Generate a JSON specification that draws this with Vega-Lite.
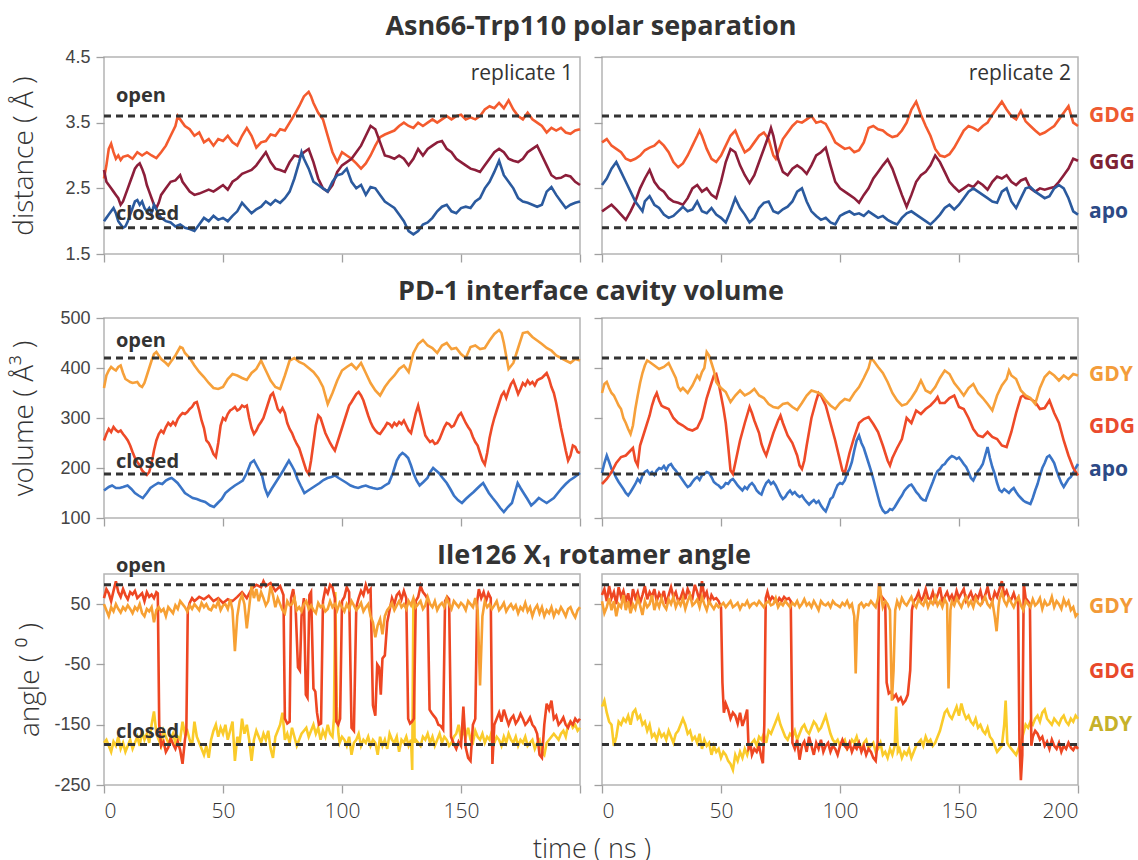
{
  "$schema": "https://vega.github.io/schema/vega-lite/v6.json",
  "background": "white",
  "padding": {"left": 10, "top": 13, "right": 4, "bottom": 2},
  "config": {
    "font": "Open Sans",
    "view": {"stroke": "#b4b4b4", "strokeWidth": 1.5},
    "axis": {"grid": false, "domain": false, "tickColor": "#a0a0a0", "tickSize": 8, "tickWidth": 1.3, "labelFont": "Liberation Sans", "labelFontSize": 18, "labelColor": "#444444", "labelPadding": 6, "titleFont": "Open Sans", "titleFontWeight": 300, "titleFontSize": 28, "titleColor": "#333333"},
    "line": {"strokeWidth": 2.6},
    "title": {"font": "Open Sans", "fontSize": 27, "fontWeight": "bold", "color": "#333333", "anchor": "middle", "frame": "bounds"}
  },
  "datasets": {
    "lv1": [{"t":0,"v":3.6,"k":"open"},{"t":200,"v":3.6,"k":"open"},{"t":0,"v":1.9,"k":"closed"},{"t":200,"v":1.9,"k":"closed"}],
    "lv2": [{"t":0,"v":420,"k":"open"},{"t":200,"v":420,"k":"open"},{"t":0,"v":188,"k":"closed"},{"t":200,"v":188,"k":"closed"}],
    "lv3": [{"t":0,"v":82,"k":"open"},{"t":200,"v":82,"k":"open"},{"t":0,"v":-183,"k":"closed"},{"t":200,"v":-183,"k":"closed"}],
    "d1L_GDG": [{"t":0,"v":2.65},{"t":1,"v":2.85},{"t":2,"v":3.1},{"t":3,"v":3.18},{"t":4,"v":3.05},{"t":5,"v":2.95},{"t":6,"v":3.0},{"t":7,"v":2.93},{"t":8,"v":2.98},{"t":10,"v":3.0},{"t":12,"v":2.95},{"t":14,"v":3.05},{"t":16,"v":3.0},{"t":18,"v":3.05},{"t":20,"v":3.0},{"t":22,"v":2.96},{"t":24,"v":3.05},{"t":26,"v":3.15},{"t":28,"v":3.3},{"t":30,"v":3.45},{"t":31,"v":3.6},{"t":32,"v":3.55},{"t":34,"v":3.45},{"t":36,"v":3.4},{"t":38,"v":3.3},{"t":40,"v":3.35},{"t":42,"v":3.2},{"t":44,"v":3.25},{"t":46,"v":3.15},{"t":48,"v":3.25},{"t":50,"v":3.22},{"t":52,"v":3.3},{"t":54,"v":3.2},{"t":56,"v":3.15},{"t":58,"v":3.3},{"t":60,"v":3.42},{"t":62,"v":3.3},{"t":64,"v":3.12},{"t":66,"v":3.2},{"t":68,"v":3.22},{"t":70,"v":3.32},{"t":72,"v":3.3},{"t":74,"v":3.4},{"t":76,"v":3.38},{"t":78,"v":3.5},{"t":80,"v":3.62},{"t":82,"v":3.75},{"t":84,"v":3.9},{"t":86,"v":3.97},{"t":87,"v":3.9},{"t":88,"v":3.8},{"t":90,"v":3.65},{"t":92,"v":3.55},{"t":94,"v":3.3},{"t":96,"v":3.05},{"t":98,"v":2.9},{"t":100,"v":3.05},{"t":102,"v":3.0},{"t":104,"v":2.95},{"t":106,"v":2.88},{"t":108,"v":2.8},{"t":110,"v":2.88},{"t":112,"v":3.0},{"t":114,"v":3.15},{"t":116,"v":3.28},{"t":118,"v":3.32},{"t":120,"v":3.35},{"t":122,"v":3.38},{"t":124,"v":3.45},{"t":126,"v":3.5},{"t":128,"v":3.45},{"t":130,"v":3.42},{"t":132,"v":3.5},{"t":134,"v":3.45},{"t":136,"v":3.5},{"t":138,"v":3.55},{"t":140,"v":3.5},{"t":142,"v":3.55},{"t":144,"v":3.6},{"t":146,"v":3.55},{"t":148,"v":3.6},{"t":150,"v":3.62},{"t":152,"v":3.55},{"t":154,"v":3.58},{"t":156,"v":3.55},{"t":158,"v":3.6},{"t":160,"v":3.7},{"t":162,"v":3.75},{"t":164,"v":3.72},{"t":166,"v":3.8},{"t":168,"v":3.72},{"t":170,"v":3.84},{"t":172,"v":3.7},{"t":174,"v":3.6},{"t":176,"v":3.55},{"t":178,"v":3.65},{"t":180,"v":3.55},{"t":182,"v":3.5},{"t":184,"v":3.45},{"t":186,"v":3.35},{"t":188,"v":3.42},{"t":190,"v":3.38},{"t":192,"v":3.42},{"t":194,"v":3.35},{"t":196,"v":3.33},{"t":198,"v":3.38},{"t":200,"v":3.4}],
    "d1L_GGG": [{"t":0,"v":2.78},{"t":1,"v":2.6},{"t":2,"v":2.55},{"t":3,"v":2.5},{"t":4,"v":2.45},{"t":5,"v":2.4},{"t":6,"v":2.35},{"t":7,"v":2.25},{"t":8,"v":2.3},{"t":9,"v":2.4},{"t":10,"v":2.5},{"t":11,"v":2.6},{"t":12,"v":2.7},{"t":13,"v":2.8},{"t":14,"v":2.85},{"t":15,"v":2.88},{"t":16,"v":2.8},{"t":17,"v":2.7},{"t":18,"v":2.55},{"t":19,"v":2.45},{"t":20,"v":2.35},{"t":21,"v":2.25},{"t":22,"v":2.2},{"t":23,"v":2.28},{"t":24,"v":2.4},{"t":26,"v":2.5},{"t":28,"v":2.6},{"t":30,"v":2.62},{"t":32,"v":2.7},{"t":33,"v":2.6},{"t":34,"v":2.55},{"t":36,"v":2.45},{"t":38,"v":2.4},{"t":40,"v":2.42},{"t":42,"v":2.45},{"t":44,"v":2.48},{"t":46,"v":2.45},{"t":48,"v":2.5},{"t":50,"v":2.55},{"t":52,"v":2.48},{"t":54,"v":2.6},{"t":56,"v":2.65},{"t":58,"v":2.72},{"t":60,"v":2.75},{"t":62,"v":2.78},{"t":64,"v":2.85},{"t":66,"v":2.95},{"t":68,"v":3.05},{"t":70,"v":2.9},{"t":72,"v":2.8},{"t":74,"v":2.78},{"t":76,"v":2.75},{"t":78,"v":2.9},{"t":80,"v":3.0},{"t":82,"v":2.98},{"t":84,"v":3.05},{"t":86,"v":3.1},{"t":88,"v":2.9},{"t":90,"v":2.65},{"t":92,"v":2.5},{"t":94,"v":2.45},{"t":96,"v":2.55},{"t":98,"v":2.75},{"t":100,"v":2.85},{"t":102,"v":2.9},{"t":104,"v":2.95},{"t":106,"v":3.05},{"t":108,"v":3.15},{"t":110,"v":3.3},{"t":112,"v":3.45},{"t":114,"v":3.4},{"t":116,"v":3.2},{"t":118,"v":3.0},{"t":120,"v":2.98},{"t":122,"v":2.95},{"t":124,"v":3.0},{"t":126,"v":2.95},{"t":128,"v":2.85},{"t":130,"v":2.95},{"t":132,"v":3.1},{"t":134,"v":3.0},{"t":136,"v":3.1},{"t":138,"v":3.15},{"t":140,"v":3.2},{"t":142,"v":3.22},{"t":144,"v":3.1},{"t":146,"v":3.05},{"t":148,"v":2.95},{"t":150,"v":2.9},{"t":152,"v":2.85},{"t":154,"v":2.8},{"t":156,"v":2.78},{"t":158,"v":2.75},{"t":160,"v":2.85},{"t":162,"v":2.95},{"t":164,"v":3.05},{"t":166,"v":3.1},{"t":168,"v":3.05},{"t":170,"v":2.95},{"t":172,"v":2.92},{"t":174,"v":2.9},{"t":176,"v":2.95},{"t":178,"v":3.05},{"t":180,"v":3.1},{"t":182,"v":3.15},{"t":184,"v":3.0},{"t":186,"v":2.85},{"t":188,"v":2.7},{"t":190,"v":2.65},{"t":192,"v":2.66},{"t":194,"v":2.7},{"t":196,"v":2.68},{"t":198,"v":2.6},{"t":200,"v":2.55}],
    "d1L_apo": [{"t":0,"v":2.0},{"t":1,"v":2.05},{"t":2,"v":2.1},{"t":3,"v":2.15},{"t":4,"v":2.2},{"t":5,"v":2.12},{"t":6,"v":2.0},{"t":7,"v":1.95},{"t":8,"v":1.9},{"t":9,"v":1.92},{"t":10,"v":2.0},{"t":11,"v":2.1},{"t":12,"v":2.2},{"t":13,"v":2.3},{"t":14,"v":2.32},{"t":15,"v":2.25},{"t":16,"v":2.3},{"t":17,"v":2.2},{"t":18,"v":2.15},{"t":19,"v":2.2},{"t":20,"v":2.12},{"t":21,"v":2.25},{"t":22,"v":2.18},{"t":23,"v":2.1},{"t":24,"v":2.05},{"t":26,"v":2.0},{"t":28,"v":1.98},{"t":30,"v":1.92},{"t":32,"v":1.95},{"t":34,"v":1.9},{"t":36,"v":1.88},{"t":38,"v":1.85},{"t":40,"v":1.95},{"t":42,"v":2.05},{"t":44,"v":2.0},{"t":46,"v":2.08},{"t":48,"v":2.02},{"t":50,"v":2.05},{"t":52,"v":2.0},{"t":54,"v":2.08},{"t":56,"v":2.15},{"t":58,"v":2.28},{"t":60,"v":2.2},{"t":62,"v":2.12},{"t":64,"v":2.18},{"t":66,"v":2.22},{"t":68,"v":2.3},{"t":70,"v":2.25},{"t":72,"v":2.32},{"t":74,"v":2.28},{"t":76,"v":2.35},{"t":78,"v":2.45},{"t":80,"v":2.65},{"t":82,"v":2.9},{"t":83,"v":3.05},{"t":84,"v":2.95},{"t":86,"v":2.8},{"t":88,"v":2.6},{"t":90,"v":2.55},{"t":92,"v":2.5},{"t":94,"v":2.45},{"t":96,"v":2.6},{"t":98,"v":2.7},{"t":100,"v":2.72},{"t":102,"v":2.8},{"t":104,"v":2.6},{"t":106,"v":2.5},{"t":108,"v":2.55},{"t":110,"v":2.4},{"t":112,"v":2.52},{"t":114,"v":2.5},{"t":116,"v":2.4},{"t":118,"v":2.3},{"t":120,"v":2.25},{"t":122,"v":2.2},{"t":124,"v":2.1},{"t":126,"v":2.0},{"t":128,"v":1.85},{"t":130,"v":1.8},{"t":132,"v":1.85},{"t":134,"v":1.95},{"t":136,"v":1.98},{"t":138,"v":2.05},{"t":140,"v":2.15},{"t":142,"v":2.22},{"t":144,"v":2.25},{"t":146,"v":2.15},{"t":148,"v":2.12},{"t":150,"v":2.2},{"t":152,"v":2.22},{"t":154,"v":2.2},{"t":156,"v":2.3},{"t":158,"v":2.35},{"t":160,"v":2.5},{"t":162,"v":2.6},{"t":164,"v":2.75},{"t":166,"v":2.92},{"t":168,"v":2.7},{"t":170,"v":2.6},{"t":172,"v":2.5},{"t":174,"v":2.35},{"t":176,"v":2.3},{"t":178,"v":2.28},{"t":180,"v":2.25},{"t":182,"v":2.22},{"t":184,"v":2.25},{"t":186,"v":2.45},{"t":188,"v":2.52},{"t":190,"v":2.4},{"t":192,"v":2.3},{"t":194,"v":2.2},{"t":196,"v":2.25},{"t":198,"v":2.28},{"t":200,"v":2.3}],
    "d1R_GDG": [{"t":0,"v":3.2},{"t":2,"v":3.25},{"t":4,"v":3.15},{"t":6,"v":3.1},{"t":8,"v":3.05},{"t":10,"v":2.95},{"t":12,"v":2.92},{"t":14,"v":2.95},{"t":16,"v":3.0},{"t":18,"v":3.08},{"t":20,"v":3.12},{"t":22,"v":3.15},{"t":24,"v":3.22},{"t":26,"v":3.15},{"t":28,"v":3.05},{"t":30,"v":2.9},{"t":32,"v":2.82},{"t":34,"v":2.88},{"t":36,"v":3.0},{"t":38,"v":3.15},{"t":40,"v":3.3},{"t":41,"v":3.38},{"t":42,"v":3.3},{"t":44,"v":3.1},{"t":46,"v":2.95},{"t":48,"v":2.9},{"t":50,"v":3.0},{"t":52,"v":3.15},{"t":54,"v":3.3},{"t":56,"v":3.38},{"t":58,"v":3.2},{"t":60,"v":3.05},{"t":62,"v":3.1},{"t":64,"v":3.2},{"t":66,"v":3.3},{"t":68,"v":3.35},{"t":70,"v":3.25},{"t":72,"v":3.0},{"t":73,"v":2.95},{"t":74,"v":3.05},{"t":76,"v":3.25},{"t":78,"v":3.35},{"t":80,"v":3.45},{"t":82,"v":3.52},{"t":84,"v":3.5},{"t":86,"v":3.55},{"t":88,"v":3.6},{"t":90,"v":3.5},{"t":92,"v":3.52},{"t":94,"v":3.48},{"t":96,"v":3.35},{"t":98,"v":3.2},{"t":100,"v":3.15},{"t":102,"v":3.1},{"t":104,"v":3.12},{"t":106,"v":3.05},{"t":108,"v":3.08},{"t":110,"v":3.2},{"t":112,"v":3.42},{"t":114,"v":3.45},{"t":116,"v":3.4},{"t":118,"v":3.38},{"t":120,"v":3.32},{"t":122,"v":3.28},{"t":124,"v":3.3},{"t":126,"v":3.38},{"t":128,"v":3.5},{"t":130,"v":3.7},{"t":132,"v":3.82},{"t":134,"v":3.62},{"t":136,"v":3.45},{"t":138,"v":3.3},{"t":140,"v":3.1},{"t":142,"v":3.0},{"t":144,"v":2.98},{"t":146,"v":3.02},{"t":148,"v":3.12},{"t":150,"v":3.25},{"t":152,"v":3.38},{"t":154,"v":3.45},{"t":156,"v":3.42},{"t":158,"v":3.38},{"t":160,"v":3.45},{"t":162,"v":3.5},{"t":164,"v":3.62},{"t":166,"v":3.72},{"t":168,"v":3.82},{"t":170,"v":3.7},{"t":172,"v":3.6},{"t":174,"v":3.55},{"t":176,"v":3.68},{"t":178,"v":3.52},{"t":180,"v":3.45},{"t":182,"v":3.38},{"t":184,"v":3.32},{"t":186,"v":3.35},{"t":188,"v":3.4},{"t":190,"v":3.45},{"t":192,"v":3.55},{"t":194,"v":3.65},{"t":196,"v":3.75},{"t":198,"v":3.5},{"t":200,"v":3.45}],
    "d1R_GGG": [{"t":0,"v":2.15},{"t":2,"v":2.2},{"t":4,"v":2.25},{"t":6,"v":2.18},{"t":8,"v":2.1},{"t":10,"v":2.02},{"t":12,"v":2.15},{"t":14,"v":2.3},{"t":16,"v":2.5},{"t":18,"v":2.65},{"t":20,"v":2.78},{"t":22,"v":2.6},{"t":24,"v":2.5},{"t":26,"v":2.45},{"t":28,"v":2.35},{"t":30,"v":2.3},{"t":32,"v":2.28},{"t":34,"v":2.25},{"t":36,"v":2.35},{"t":38,"v":2.5},{"t":40,"v":2.55},{"t":42,"v":2.45},{"t":44,"v":2.5},{"t":46,"v":2.4},{"t":48,"v":2.35},{"t":50,"v":2.6},{"t":52,"v":2.9},{"t":54,"v":3.1},{"t":56,"v":3.05},{"t":58,"v":2.85},{"t":60,"v":2.7},{"t":62,"v":2.58},{"t":64,"v":2.7},{"t":66,"v":2.9},{"t":68,"v":3.1},{"t":70,"v":3.3},{"t":71,"v":3.42},{"t":72,"v":3.3},{"t":74,"v":2.95},{"t":76,"v":2.75},{"t":78,"v":2.7},{"t":80,"v":2.8},{"t":82,"v":2.85},{"t":84,"v":2.8},{"t":86,"v":2.72},{"t":88,"v":2.85},{"t":90,"v":3.0},{"t":92,"v":3.05},{"t":94,"v":3.12},{"t":96,"v":2.85},{"t":98,"v":2.6},{"t":100,"v":2.5},{"t":102,"v":2.45},{"t":104,"v":2.4},{"t":106,"v":2.35},{"t":108,"v":2.28},{"t":110,"v":2.4},{"t":112,"v":2.5},{"t":114,"v":2.65},{"t":116,"v":2.75},{"t":118,"v":2.85},{"t":120,"v":2.94},{"t":122,"v":2.8},{"t":124,"v":2.6},{"t":126,"v":2.4},{"t":128,"v":2.22},{"t":130,"v":2.4},{"t":132,"v":2.6},{"t":134,"v":2.7},{"t":136,"v":2.75},{"t":138,"v":2.85},{"t":140,"v":3.0},{"t":142,"v":2.9},{"t":144,"v":2.75},{"t":146,"v":2.6},{"t":148,"v":2.52},{"t":150,"v":2.45},{"t":152,"v":2.5},{"t":154,"v":2.55},{"t":156,"v":2.52},{"t":158,"v":2.6},{"t":160,"v":2.55},{"t":162,"v":2.48},{"t":164,"v":2.6},{"t":166,"v":2.68},{"t":168,"v":2.65},{"t":170,"v":2.7},{"t":172,"v":2.6},{"t":174,"v":2.55},{"t":176,"v":2.62},{"t":178,"v":2.65},{"t":180,"v":2.5},{"t":182,"v":2.45},{"t":184,"v":2.5},{"t":186,"v":2.48},{"t":188,"v":2.5},{"t":190,"v":2.52},{"t":192,"v":2.6},{"t":194,"v":2.7},{"t":196,"v":2.8},{"t":198,"v":2.95},{"t":200,"v":2.92}],
    "d1R_apo": [{"t":0,"v":2.55},{"t":2,"v":2.65},{"t":4,"v":2.8},{"t":6,"v":2.9},{"t":8,"v":2.75},{"t":10,"v":2.6},{"t":12,"v":2.45},{"t":14,"v":2.3},{"t":16,"v":2.2},{"t":17,"v":2.15},{"t":18,"v":2.3},{"t":20,"v":2.38},{"t":22,"v":2.25},{"t":24,"v":2.2},{"t":26,"v":2.1},{"t":28,"v":2.05},{"t":30,"v":2.08},{"t":32,"v":2.15},{"t":34,"v":2.22},{"t":36,"v":2.15},{"t":38,"v":2.18},{"t":40,"v":2.3},{"t":42,"v":2.15},{"t":44,"v":2.12},{"t":46,"v":2.2},{"t":48,"v":2.1},{"t":50,"v":2.05},{"t":52,"v":1.98},{"t":54,"v":2.15},{"t":56,"v":2.35},{"t":58,"v":2.2},{"t":60,"v":2.1},{"t":62,"v":1.98},{"t":64,"v":2.05},{"t":66,"v":2.2},{"t":68,"v":2.28},{"t":70,"v":2.3},{"t":72,"v":2.15},{"t":74,"v":2.12},{"t":76,"v":2.18},{"t":78,"v":2.22},{"t":80,"v":2.3},{"t":82,"v":2.45},{"t":84,"v":2.5},{"t":86,"v":2.3},{"t":88,"v":2.15},{"t":90,"v":2.08},{"t":92,"v":2.02},{"t":94,"v":2.05},{"t":96,"v":1.98},{"t":98,"v":1.95},{"t":100,"v":2.08},{"t":102,"v":2.12},{"t":104,"v":2.15},{"t":106,"v":2.1},{"t":108,"v":2.12},{"t":110,"v":2.08},{"t":112,"v":2.15},{"t":114,"v":2.1},{"t":116,"v":2.05},{"t":118,"v":2.08},{"t":120,"v":2.02},{"t":122,"v":1.98},{"t":124,"v":1.95},{"t":126,"v":2.05},{"t":128,"v":2.12},{"t":130,"v":2.15},{"t":132,"v":2.1},{"t":134,"v":2.05},{"t":136,"v":2.0},{"t":138,"v":1.95},{"t":140,"v":2.02},{"t":142,"v":2.1},{"t":144,"v":2.2},{"t":146,"v":2.25},{"t":148,"v":2.18},{"t":150,"v":2.25},{"t":152,"v":2.35},{"t":154,"v":2.45},{"t":156,"v":2.5},{"t":158,"v":2.45},{"t":160,"v":2.4},{"t":162,"v":2.35},{"t":164,"v":2.3},{"t":166,"v":2.28},{"t":168,"v":2.45},{"t":170,"v":2.5},{"t":172,"v":2.3},{"t":174,"v":2.2},{"t":176,"v":2.35},{"t":178,"v":2.5},{"t":180,"v":2.52},{"t":182,"v":2.45},{"t":184,"v":2.4},{"t":186,"v":2.35},{"t":188,"v":2.38},{"t":190,"v":2.5},{"t":192,"v":2.55},{"t":194,"v":2.5},{"t":196,"v":2.35},{"t":198,"v":2.15},{"t":200,"v":2.1}],
    "d2L_GDY": [{"t":0,"v":360},{"t":1,"v":385},{"t":2,"v":395},{"t":3,"v":402},{"t":4,"v":398},{"t":5,"v":395},{"t":6,"v":402},{"t":7,"v":405},{"t":8,"v":390},{"t":9,"v":378},{"t":10,"v":375},{"t":11,"v":372},{"t":12,"v":370},{"t":14,"v":372},{"t":15,"v":365},{"t":16,"v":362},{"t":17,"v":370},{"t":18,"v":385},{"t":19,"v":400},{"t":20,"v":415},{"t":21,"v":428},{"t":22,"v":432},{"t":23,"v":425},{"t":24,"v":418},{"t":26,"v":410},{"t":27,"v":405},{"t":28,"v":412},{"t":30,"v":425},{"t":32,"v":442},{"t":33,"v":440},{"t":34,"v":430},{"t":36,"v":420},{"t":38,"v":405},{"t":40,"v":392},{"t":42,"v":382},{"t":44,"v":370},{"t":46,"v":360},{"t":48,"v":358},{"t":50,"v":362},{"t":52,"v":378},{"t":54,"v":388},{"t":56,"v":385},{"t":58,"v":380},{"t":60,"v":376},{"t":62,"v":390},{"t":64,"v":398},{"t":66,"v":415},{"t":68,"v":395},{"t":70,"v":375},{"t":72,"v":362},{"t":74,"v":358},{"t":76,"v":385},{"t":78,"v":415},{"t":80,"v":420},{"t":82,"v":412},{"t":84,"v":408},{"t":86,"v":400},{"t":88,"v":392},{"t":90,"v":380},{"t":92,"v":362},{"t":94,"v":328},{"t":96,"v":350},{"t":98,"v":375},{"t":100,"v":395},{"t":102,"v":402},{"t":104,"v":408},{"t":106,"v":398},{"t":108,"v":410},{"t":110,"v":390},{"t":112,"v":370},{"t":114,"v":355},{"t":116,"v":345},{"t":118,"v":362},{"t":120,"v":375},{"t":122,"v":385},{"t":124,"v":398},{"t":126,"v":405},{"t":128,"v":392},{"t":130,"v":430},{"t":132,"v":448},{"t":134,"v":456},{"t":136,"v":445},{"t":138,"v":440},{"t":140,"v":430},{"t":142,"v":445},{"t":144,"v":450},{"t":146,"v":438},{"t":148,"v":440},{"t":150,"v":428},{"t":152,"v":420},{"t":154,"v":442},{"t":156,"v":445},{"t":158,"v":438},{"t":160,"v":440},{"t":162,"v":455},{"t":164,"v":468},{"t":166,"v":476},{"t":167,"v":470},{"t":168,"v":450},{"t":170,"v":398},{"t":172,"v":410},{"t":174,"v":440},{"t":176,"v":470},{"t":178,"v":472},{"t":180,"v":462},{"t":182,"v":455},{"t":184,"v":448},{"t":186,"v":440},{"t":188,"v":435},{"t":190,"v":425},{"t":192,"v":420},{"t":194,"v":415},{"t":196,"v":410},{"t":198,"v":418},{"t":200,"v":415}],
    "d2L_GDG": [{"t":0,"v":255},{"t":1,"v":268},{"t":2,"v":278},{"t":3,"v":272},{"t":4,"v":282},{"t":5,"v":276},{"t":6,"v":272},{"t":7,"v":275},{"t":8,"v":268},{"t":9,"v":262},{"t":10,"v":255},{"t":11,"v":245},{"t":12,"v":232},{"t":13,"v":220},{"t":14,"v":212},{"t":15,"v":205},{"t":16,"v":195},{"t":17,"v":190},{"t":18,"v":186},{"t":19,"v":192},{"t":20,"v":210},{"t":21,"v":235},{"t":22,"v":255},{"t":23,"v":268},{"t":24,"v":275},{"t":25,"v":270},{"t":26,"v":282},{"t":27,"v":290},{"t":28,"v":285},{"t":29,"v":292},{"t":30,"v":286},{"t":31,"v":298},{"t":32,"v":305},{"t":33,"v":310},{"t":34,"v":308},{"t":35,"v":312},{"t":36,"v":318},{"t":37,"v":322},{"t":38,"v":330},{"t":39,"v":332},{"t":40,"v":315},{"t":41,"v":295},{"t":42,"v":280},{"t":43,"v":255},{"t":44,"v":250},{"t":45,"v":240},{"t":46,"v":228},{"t":47,"v":222},{"t":48,"v":250},{"t":49,"v":285},{"t":50,"v":300},{"t":51,"v":296},{"t":52,"v":308},{"t":53,"v":315},{"t":54,"v":318},{"t":55,"v":322},{"t":56,"v":315},{"t":57,"v":318},{"t":58,"v":325},{"t":59,"v":322},{"t":60,"v":325},{"t":61,"v":300},{"t":62,"v":280},{"t":63,"v":268},{"t":64,"v":275},{"t":65,"v":285},{"t":66,"v":292},{"t":67,"v":300},{"t":68,"v":315},{"t":69,"v":330},{"t":70,"v":345},{"t":71,"v":350},{"t":72,"v":335},{"t":73,"v":318},{"t":74,"v":312},{"t":75,"v":320},{"t":76,"v":310},{"t":77,"v":290},{"t":78,"v":278},{"t":79,"v":270},{"t":80,"v":258},{"t":81,"v":248},{"t":82,"v":240},{"t":83,"v":225},{"t":84,"v":210},{"t":85,"v":195},{"t":86,"v":188},{"t":87,"v":215},{"t":88,"v":250},{"t":89,"v":285},{"t":90,"v":305},{"t":91,"v":300},{"t":92,"v":285},{"t":93,"v":270},{"t":94,"v":260},{"t":95,"v":250},{"t":96,"v":242},{"t":97,"v":235},{"t":98,"v":250},{"t":99,"v":265},{"t":100,"v":280},{"t":101,"v":295},{"t":102,"v":310},{"t":103,"v":325},{"t":104,"v":332},{"t":105,"v":340},{"t":106,"v":348},{"t":107,"v":352},{"t":108,"v":345},{"t":109,"v":335},{"t":110,"v":320},{"t":111,"v":305},{"t":112,"v":292},{"t":113,"v":282},{"t":114,"v":275},{"t":115,"v":270},{"t":116,"v":268},{"t":117,"v":275},{"t":118,"v":282},{"t":119,"v":290},{"t":120,"v":288},{"t":121,"v":282},{"t":122,"v":290},{"t":123,"v":285},{"t":124,"v":292},{"t":125,"v":288},{"t":126,"v":295},{"t":127,"v":285},{"t":128,"v":275},{"t":129,"v":270},{"t":130,"v":290},{"t":131,"v":310},{"t":132,"v":325},{"t":133,"v":305},{"t":134,"v":285},{"t":135,"v":265},{"t":136,"v":258},{"t":137,"v":252},{"t":138,"v":255},{"t":139,"v":248},{"t":140,"v":250},{"t":141,"v":258},{"t":142,"v":270},{"t":143,"v":282},{"t":144,"v":290},{"t":145,"v":288},{"t":146,"v":282},{"t":147,"v":285},{"t":148,"v":295},{"t":149,"v":305},{"t":150,"v":310},{"t":151,"v":300},{"t":152,"v":290},{"t":153,"v":282},{"t":154,"v":275},{"t":155,"v":262},{"t":156,"v":252},{"t":157,"v":245},{"t":158,"v":230},{"t":159,"v":215},{"t":160,"v":207},{"t":161,"v":230},{"t":162,"v":260},{"t":163,"v":282},{"t":164,"v":300},{"t":165,"v":315},{"t":166,"v":330},{"t":167,"v":345},{"t":168,"v":352},{"t":169,"v":340},{"t":170,"v":355},{"t":171,"v":368},{"t":172,"v":375},{"t":173,"v":362},{"t":174,"v":348},{"t":175,"v":358},{"t":176,"v":370},{"t":177,"v":365},{"t":178,"v":375},{"t":179,"v":368},{"t":180,"v":372},{"t":181,"v":365},{"t":182,"v":375},{"t":183,"v":378},{"t":184,"v":380},{"t":185,"v":385},{"t":186,"v":390},{"t":187,"v":378},{"t":188,"v":362},{"t":189,"v":350},{"t":190,"v":330},{"t":191,"v":305},{"t":192,"v":280},{"t":193,"v":258},{"t":194,"v":235},{"t":195,"v":215},{"t":196,"v":225},{"t":197,"v":245},{"t":198,"v":242},{"t":199,"v":232},{"t":200,"v":230}],
    "d2L_apo": [{"t":0,"v":155},{"t":2,"v":162},{"t":3.4,"v":165},{"t":5,"v":160},{"t":6.6,"v":160},{"t":8,"v":162},{"t":9.9,"v":165},{"t":11.5,"v":158},{"t":13,"v":150},{"t":14.5,"v":145},{"t":16.3,"v":140},{"t":18,"v":150},{"t":19.5,"v":160},{"t":21,"v":165},{"t":22.8,"v":170},{"t":24.5,"v":168},{"t":26,"v":175},{"t":27.2,"v":178},{"t":28.4,"v":180},{"t":29.5,"v":176},{"t":30.9,"v":170},{"t":32.5,"v":160},{"t":34,"v":150},{"t":35.6,"v":145},{"t":37.3,"v":140},{"t":39,"v":138},{"t":40.5,"v":135},{"t":42.5,"v":132},{"t":44.6,"v":125},{"t":46.2,"v":122},{"t":47.8,"v":130},{"t":49.5,"v":138},{"t":51,"v":150},{"t":53,"v":158},{"t":55,"v":165},{"t":56.7,"v":170},{"t":58.3,"v":175},{"t":60,"v":190},{"t":61.6,"v":210},{"t":63,"v":215},{"t":64.7,"v":200},{"t":66.4,"v":185},{"t":67.6,"v":160},{"t":68.8,"v":145},{"t":70.4,"v":158},{"t":72,"v":170},{"t":73.6,"v":182},{"t":75.3,"v":195},{"t":76.5,"v":205},{"t":77.7,"v":215},{"t":78.9,"v":205},{"t":80,"v":195},{"t":81.3,"v":178},{"t":82.6,"v":165},{"t":84.2,"v":150},{"t":85.8,"v":155},{"t":87.4,"v":160},{"t":89,"v":165},{"t":90.6,"v":170},{"t":92.2,"v":176},{"t":93.9,"v":180},{"t":95.5,"v":182},{"t":97,"v":185},{"t":98.6,"v":180},{"t":100.3,"v":175},{"t":102,"v":170},{"t":103.6,"v":165},{"t":105.2,"v":162},{"t":106.8,"v":160},{"t":108.4,"v":163},{"t":110,"v":165},{"t":111.5,"v":162},{"t":113,"v":160},{"t":114.8,"v":158},{"t":116.5,"v":160},{"t":118,"v":165},{"t":119.7,"v":170},{"t":121.4,"v":190},{"t":123,"v":215},{"t":124.2,"v":225},{"t":125.4,"v":230},{"t":126.6,"v":226},{"t":127.8,"v":220},{"t":129,"v":205},{"t":130,"v":190},{"t":131.3,"v":175},{"t":132.6,"v":165},{"t":134.2,"v":172},{"t":135.9,"v":180},{"t":137.1,"v":192},{"t":138.3,"v":200},{"t":139.5,"v":195},{"t":140.7,"v":190},{"t":142.3,"v":180},{"t":144,"v":170},{"t":145.5,"v":158},{"t":147,"v":145},{"t":148.7,"v":136},{"t":150.4,"v":130},{"t":152,"v":138},{"t":153.6,"v":145},{"t":155.3,"v":152},{"t":157,"v":160},{"t":158.1,"v":165},{"t":159.3,"v":170},{"t":160.5,"v":160},{"t":161.7,"v":150},{"t":163.3,"v":140},{"t":165,"v":130},{"t":166.5,"v":120},{"t":168,"v":112},{"t":169.7,"v":122},{"t":171.4,"v":130},{"t":172.6,"v":150},{"t":173.8,"v":170},{"t":175,"v":160},{"t":176.3,"v":150},{"t":177.9,"v":138},{"t":179.5,"v":125},{"t":181.1,"v":132},{"t":182.7,"v":140},{"t":184.3,"v":135},{"t":186,"v":130},{"t":187.5,"v":135},{"t":189,"v":140},{"t":190.7,"v":150},{"t":192.4,"v":160},{"t":194,"v":168},{"t":195.6,"v":175},{"t":197.8,"v":182},{"t":200,"v":190}],
    "d2R_GDY": [{"t":0,"v":350},{"t":1,"v":368},{"t":2,"v":372},{"t":3,"v":360},{"t":4,"v":350},{"t":5,"v":345},{"t":6,"v":335},{"t":7,"v":325},{"t":8,"v":318},{"t":9,"v":300},{"t":10,"v":290},{"t":11,"v":278},{"t":12,"v":268},{"t":13,"v":285},{"t":14,"v":318},{"t":15,"v":345},{"t":16,"v":370},{"t":17,"v":390},{"t":18,"v":405},{"t":19,"v":415},{"t":20,"v":412},{"t":22,"v":405},{"t":24,"v":398},{"t":26,"v":402},{"t":28,"v":410},{"t":29,"v":400},{"t":30,"v":390},{"t":31,"v":380},{"t":32,"v":362},{"t":33,"v":355},{"t":34,"v":360},{"t":36,"v":350},{"t":38,"v":365},{"t":40,"v":385},{"t":41,"v":378},{"t":42,"v":392},{"t":43,"v":400},{"t":44,"v":432},{"t":45,"v":425},{"t":46,"v":410},{"t":47,"v":395},{"t":48,"v":372},{"t":49,"v":365},{"t":50,"v":360},{"t":52,"v":352},{"t":54,"v":332},{"t":56,"v":345},{"t":58,"v":355},{"t":60,"v":345},{"t":62,"v":350},{"t":64,"v":358},{"t":66,"v":345},{"t":68,"v":340},{"t":70,"v":328},{"t":72,"v":322},{"t":74,"v":320},{"t":76,"v":328},{"t":78,"v":330},{"t":80,"v":322},{"t":82,"v":316},{"t":84,"v":330},{"t":86,"v":345},{"t":88,"v":355},{"t":90,"v":352},{"t":92,"v":348},{"t":94,"v":335},{"t":96,"v":325},{"t":98,"v":318},{"t":100,"v":330},{"t":102,"v":338},{"t":104,"v":335},{"t":106,"v":350},{"t":108,"v":362},{"t":110,"v":380},{"t":112,"v":400},{"t":113,"v":418},{"t":114,"v":415},{"t":116,"v":402},{"t":118,"v":390},{"t":120,"v":372},{"t":122,"v":350},{"t":124,"v":335},{"t":126,"v":325},{"t":128,"v":328},{"t":130,"v":340},{"t":132,"v":355},{"t":134,"v":375},{"t":136,"v":355},{"t":138,"v":350},{"t":140,"v":362},{"t":142,"v":380},{"t":144,"v":395},{"t":146,"v":388},{"t":148,"v":370},{"t":150,"v":358},{"t":152,"v":345},{"t":154,"v":360},{"t":156,"v":368},{"t":158,"v":350},{"t":160,"v":340},{"t":162,"v":328},{"t":164,"v":315},{"t":166,"v":345},{"t":168,"v":365},{"t":170,"v":378},{"t":171,"v":395},{"t":172,"v":385},{"t":174,"v":378},{"t":176,"v":355},{"t":178,"v":345},{"t":180,"v":340},{"t":182,"v":328},{"t":184,"v":360},{"t":186,"v":382},{"t":188,"v":392},{"t":190,"v":385},{"t":192,"v":375},{"t":194,"v":385},{"t":196,"v":378},{"t":198,"v":388},{"t":200,"v":385}],
    "d2R_GDG": [{"t":0,"v":168},{"t":2,"v":178},{"t":4,"v":192},{"t":6,"v":210},{"t":8,"v":222},{"t":10,"v":225},{"t":12,"v":235},{"t":13,"v":240},{"t":14,"v":215},{"t":15,"v":205},{"t":16,"v":245},{"t":18,"v":275},{"t":20,"v":305},{"t":21,"v":325},{"t":22,"v":340},{"t":23,"v":350},{"t":24,"v":335},{"t":25,"v":325},{"t":26,"v":322},{"t":28,"v":318},{"t":30,"v":300},{"t":32,"v":290},{"t":34,"v":285},{"t":36,"v":278},{"t":38,"v":275},{"t":40,"v":280},{"t":42,"v":300},{"t":44,"v":340},{"t":46,"v":370},{"t":47,"v":385},{"t":48,"v":388},{"t":49,"v":370},{"t":50,"v":345},{"t":51,"v":320},{"t":52,"v":290},{"t":53,"v":245},{"t":54,"v":195},{"t":55,"v":188},{"t":56,"v":210},{"t":58,"v":255},{"t":60,"v":290},{"t":62,"v":322},{"t":63,"v":310},{"t":64,"v":295},{"t":66,"v":270},{"t":67,"v":248},{"t":68,"v":235},{"t":69,"v":225},{"t":70,"v":240},{"t":72,"v":270},{"t":74,"v":295},{"t":75,"v":305},{"t":76,"v":290},{"t":78,"v":265},{"t":80,"v":250},{"t":82,"v":225},{"t":83,"v":205},{"t":84,"v":198},{"t":85,"v":215},{"t":86,"v":245},{"t":88,"v":300},{"t":90,"v":335},{"t":91,"v":350},{"t":92,"v":345},{"t":94,"v":325},{"t":96,"v":290},{"t":98,"v":255},{"t":100,"v":215},{"t":101,"v":195},{"t":102,"v":190},{"t":103,"v":210},{"t":104,"v":230},{"t":106,"v":262},{"t":108,"v":290},{"t":110,"v":298},{"t":112,"v":302},{"t":114,"v":288},{"t":116,"v":272},{"t":118,"v":245},{"t":120,"v":215},{"t":121,"v":205},{"t":122,"v":220},{"t":124,"v":240},{"t":126,"v":258},{"t":128,"v":300},{"t":130,"v":290},{"t":132,"v":315},{"t":134,"v":308},{"t":136,"v":318},{"t":138,"v":325},{"t":140,"v":335},{"t":141,"v":342},{"t":142,"v":330},{"t":144,"v":330},{"t":146,"v":340},{"t":148,"v":345},{"t":150,"v":322},{"t":152,"v":318},{"t":154,"v":300},{"t":156,"v":278},{"t":158,"v":265},{"t":160,"v":262},{"t":162,"v":272},{"t":164,"v":262},{"t":166,"v":258},{"t":168,"v":245},{"t":170,"v":242},{"t":172,"v":272},{"t":174,"v":310},{"t":176,"v":342},{"t":177,"v":345},{"t":178,"v":340},{"t":180,"v":338},{"t":182,"v":332},{"t":184,"v":318},{"t":186,"v":320},{"t":188,"v":335},{"t":190,"v":310},{"t":192,"v":290},{"t":194,"v":255},{"t":196,"v":225},{"t":198,"v":200},{"t":200,"v":185}],
    "d2R_apo": [{"t":0,"v":190},{"t":1,"v":210},{"t":2,"v":225},{"t":3,"v":212},{"t":4,"v":198},{"t":5,"v":190},{"t":6,"v":180},{"t":7,"v":172},{"t":8,"v":165},{"t":9,"v":158},{"t":10,"v":150},{"t":11,"v":145},{"t":12,"v":152},{"t":13,"v":160},{"t":14,"v":168},{"t":15,"v":178},{"t":16,"v":172},{"t":17,"v":185},{"t":18,"v":192},{"t":19,"v":195},{"t":20,"v":188},{"t":21,"v":192},{"t":22,"v":186},{"t":23,"v":195},{"t":24,"v":200},{"t":25,"v":198},{"t":26,"v":204},{"t":27,"v":196},{"t":28,"v":205},{"t":29,"v":208},{"t":30,"v":200},{"t":31,"v":195},{"t":32,"v":188},{"t":33,"v":182},{"t":34,"v":175},{"t":35,"v":168},{"t":36,"v":162},{"t":37,"v":165},{"t":38,"v":172},{"t":39,"v":178},{"t":40,"v":182},{"t":41,"v":176},{"t":42,"v":185},{"t":43,"v":188},{"t":44,"v":192},{"t":45,"v":190},{"t":46,"v":182},{"t":47,"v":172},{"t":48,"v":168},{"t":49,"v":165},{"t":50,"v":160},{"t":51,"v":163},{"t":52,"v":170},{"t":53,"v":168},{"t":54,"v":175},{"t":55,"v":178},{"t":56,"v":172},{"t":57,"v":165},{"t":58,"v":160},{"t":59,"v":155},{"t":60,"v":162},{"t":61,"v":158},{"t":62,"v":166},{"t":63,"v":170},{"t":64,"v":164},{"t":65,"v":155},{"t":66,"v":150},{"t":67,"v":147},{"t":68,"v":160},{"t":69,"v":170},{"t":70,"v":175},{"t":71,"v":168},{"t":72,"v":172},{"t":73,"v":165},{"t":74,"v":155},{"t":75,"v":145},{"t":76,"v":138},{"t":77,"v":142},{"t":78,"v":150},{"t":79,"v":155},{"t":80,"v":148},{"t":81,"v":152},{"t":82,"v":146},{"t":83,"v":142},{"t":84,"v":145},{"t":85,"v":138},{"t":86,"v":132},{"t":87,"v":127},{"t":88,"v":132},{"t":89,"v":136},{"t":90,"v":130},{"t":91,"v":134},{"t":92,"v":125},{"t":93,"v":118},{"t":94,"v":113},{"t":95,"v":125},{"t":96,"v":138},{"t":97,"v":142},{"t":98,"v":155},{"t":99,"v":166},{"t":100,"v":170},{"t":101,"v":168},{"t":102,"v":175},{"t":103,"v":190},{"t":104,"v":198},{"t":105,"v":212},{"t":106,"v":235},{"t":107,"v":255},{"t":108,"v":265},{"t":109,"v":250},{"t":110,"v":240},{"t":111,"v":225},{"t":112,"v":210},{"t":113,"v":195},{"t":114,"v":178},{"t":115,"v":160},{"t":116,"v":142},{"t":117,"v":125},{"t":118,"v":115},{"t":119,"v":110},{"t":120,"v":112},{"t":121,"v":118},{"t":122,"v":116},{"t":123,"v":122},{"t":124,"v":130},{"t":125,"v":138},{"t":126,"v":145},{"t":127,"v":154},{"t":128,"v":160},{"t":129,"v":165},{"t":130,"v":167},{"t":131,"v":160},{"t":132,"v":152},{"t":133,"v":147},{"t":134,"v":140},{"t":135,"v":136},{"t":136,"v":135},{"t":137,"v":148},{"t":138,"v":160},{"t":139,"v":172},{"t":140,"v":185},{"t":141,"v":194},{"t":142,"v":198},{"t":143,"v":205},{"t":144,"v":208},{"t":145,"v":215},{"t":146,"v":220},{"t":147,"v":224},{"t":148,"v":222},{"t":149,"v":218},{"t":150,"v":221},{"t":151,"v":215},{"t":152,"v":208},{"t":153,"v":202},{"t":154,"v":192},{"t":155,"v":180},{"t":156,"v":175},{"t":157,"v":185},{"t":158,"v":194},{"t":159,"v":200},{"t":160,"v":208},{"t":161,"v":225},{"t":162,"v":242},{"t":163,"v":220},{"t":164,"v":202},{"t":165,"v":188},{"t":166,"v":170},{"t":167,"v":156},{"t":168,"v":152},{"t":169,"v":158},{"t":170,"v":154},{"t":171,"v":150},{"t":172,"v":156},{"t":173,"v":160},{"t":174,"v":152},{"t":175,"v":145},{"t":176,"v":140},{"t":177,"v":135},{"t":178,"v":132},{"t":179,"v":130},{"t":180,"v":128},{"t":181,"v":140},{"t":182,"v":155},{"t":183,"v":168},{"t":184,"v":185},{"t":185,"v":200},{"t":186,"v":210},{"t":187,"v":222},{"t":188,"v":225},{"t":189,"v":218},{"t":190,"v":210},{"t":191,"v":195},{"t":192,"v":182},{"t":193,"v":170},{"t":194,"v":162},{"t":195,"v":170},{"t":196,"v":178},{"t":197,"v":182},{"t":198,"v":190},{"t":199,"v":200},{"t":200,"v":208}],
    "d3L_GDG": [{"t":0,"v":60},{"t":1,"v":75},{"t":2,"v":68},{"t":3,"v":55},{"t":4,"v":72},{"t":5,"v":88},{"t":6,"v":70},{"t":7,"v":62},{"t":8,"v":75},{"t":9,"v":65},{"t":10,"v":58},{"t":11,"v":70},{"t":12,"v":66},{"t":13,"v":72},{"t":14,"v":60},{"t":15,"v":64},{"t":16,"v":68},{"t":17,"v":55},{"t":18,"v":70},{"t":19,"v":62},{"t":20,"v":66},{"t":21,"v":60},{"t":22,"v":70},{"t":22.6,"v":68},{"t":23.2,"v":-150},{"t":24,"v":-185},{"t":25,"v":-178},{"t":26,"v":-195},{"t":27,"v":-188},{"t":28,"v":-172},{"t":29,"v":-182},{"t":30,"v":-190},{"t":31,"v":-178},{"t":32,"v":-192},{"t":33,"v":-215},{"t":34,"v":-175},{"t":34.6,"v":-160},{"t":35.2,"v":40},{"t":36,"v":52},{"t":37,"v":60},{"t":38,"v":55},{"t":40,"v":62},{"t":42,"v":58},{"t":44,"v":64},{"t":46,"v":55},{"t":48,"v":60},{"t":50,"v":52},{"t":52,"v":58},{"t":54,"v":55},{"t":56,"v":62},{"t":58,"v":70},{"t":60,"v":60},{"t":62,"v":75},{"t":64,"v":82},{"t":66,"v":78},{"t":67,"v":88},{"t":68,"v":80},{"t":70,"v":85},{"t":72,"v":72},{"t":74,"v":80},{"t":75.4,"v":65},{"t":76,"v":-140},{"t":77,"v":-148},{"t":78,"v":-145},{"t":78.6,"v":60},{"t":79.5,"v":75},{"t":80.5,"v":45},{"t":81.5,"v":-55},{"t":82.3,"v":-60},{"t":83,"v":30},{"t":84,"v":60},{"t":84.8,"v":-100},{"t":85.5,"v":-105},{"t":86.3,"v":65},{"t":87,"v":70},{"t":88,"v":-90},{"t":88.8,"v":-95},{"t":89.5,"v":-130},{"t":90.3,"v":-150},{"t":91.2,"v":-148},{"t":92,"v":55},{"t":93,"v":75},{"t":94,"v":68},{"t":95,"v":82},{"t":96,"v":78},{"t":97,"v":60},{"t":97.6,"v":-145},{"t":98.4,"v":-150},{"t":99.2,"v":-140},{"t":100,"v":55},{"t":101,"v":62},{"t":102,"v":78},{"t":103,"v":70},{"t":104,"v":-155},{"t":105,"v":-160},{"t":106,"v":45},{"t":107,"v":60},{"t":108,"v":72},{"t":109,"v":65},{"t":110,"v":82},{"t":111,"v":70},{"t":112,"v":75},{"t":113,"v":-118},{"t":114,"v":-135},{"t":114.8,"v":-50},{"t":115.6,"v":-55},{"t":116.3,"v":-100},{"t":117,"v":-40},{"t":118,"v":-35},{"t":119,"v":20},{"t":120,"v":40},{"t":121,"v":60},{"t":122,"v":50},{"t":123,"v":65},{"t":124,"v":70},{"t":125,"v":58},{"t":126,"v":72},{"t":127,"v":60},{"t":127.8,"v":-140},{"t":128.6,"v":-148},{"t":129.4,"v":-145},{"t":130.2,"v":-140},{"t":131,"v":55},{"t":132,"v":62},{"t":133,"v":80},{"t":134,"v":70},{"t":135,"v":65},{"t":136,"v":58},{"t":136.8,"v":-125},{"t":137.6,"v":-130},{"t":138.5,"v":-135},{"t":139.5,"v":-140},{"t":140.5,"v":-150},{"t":141.5,"v":-152},{"t":142.5,"v":-158},{"t":143.3,"v":55},{"t":144.2,"v":62},{"t":145,"v":58},{"t":145.8,"v":-170},{"t":147,"v":-182},{"t":148,"v":-190},{"t":149,"v":-178},{"t":150,"v":-185},{"t":151,"v":-120},{"t":152,"v":-188},{"t":153,"v":-205},{"t":154,"v":-210},{"t":155,"v":-150},{"t":156,"v":-140},{"t":156.8,"v":55},{"t":157.5,"v":75},{"t":158.5,"v":60},{"t":159.5,"v":70},{"t":160.5,"v":55},{"t":161.5,"v":68},{"t":162.5,"v":60},{"t":163.2,"v":-215},{"t":164,"v":-150},{"t":165,"v":-140},{"t":166,"v":-130},{"t":167,"v":-145},{"t":168,"v":-125},{"t":169,"v":-138},{"t":170,"v":-150},{"t":171,"v":-140},{"t":172,"v":-135},{"t":173,"v":-148},{"t":174,"v":-142},{"t":175,"v":-132},{"t":176,"v":-140},{"t":177,"v":-150},{"t":178,"v":-145},{"t":179,"v":-138},{"t":180,"v":-150},{"t":181,"v":-155},{"t":182,"v":-165},{"t":183,"v":-200},{"t":184,"v":-205},{"t":185,"v":-150},{"t":186,"v":-115},{"t":187,"v":-125},{"t":188,"v":-110},{"t":189,"v":-140},{"t":190,"v":-135},{"t":191,"v":-150},{"t":192,"v":-145},{"t":193,"v":-138},{"t":194,"v":-150},{"t":195,"v":-155},{"t":196,"v":-145},{"t":197,"v":-150},{"t":198,"v":-140},{"t":199,"v":-145},{"t":200,"v":-140}],
    "d3L_GDY": [{"t":0,"v":50},{"t":1,"v":40},{"t":2,"v":30},{"t":3,"v":45},{"t":4,"v":38},{"t":5,"v":50},{"t":6,"v":42},{"t":7,"v":36},{"t":8,"v":45},{"t":9,"v":40},{"t":10,"v":48},{"t":11,"v":42},{"t":12,"v":35},{"t":13,"v":45},{"t":14,"v":40},{"t":15,"v":50},{"t":16,"v":35},{"t":17,"v":30},{"t":18,"v":42},{"t":19,"v":38},{"t":20,"v":45},{"t":21,"v":20},{"t":22,"v":40},{"t":23,"v":45},{"t":24,"v":38},{"t":25,"v":42},{"t":26,"v":30},{"t":27,"v":45},{"t":28,"v":40},{"t":29,"v":35},{"t":30,"v":48},{"t":31,"v":42},{"t":32,"v":55},{"t":33,"v":50},{"t":34,"v":45},{"t":35,"v":38},{"t":36,"v":48},{"t":37,"v":42},{"t":38,"v":50},{"t":39,"v":45},{"t":40,"v":40},{"t":41,"v":52},{"t":42,"v":45},{"t":43,"v":50},{"t":44,"v":42},{"t":45,"v":40},{"t":46,"v":48},{"t":47,"v":45},{"t":48,"v":55},{"t":49,"v":40},{"t":50,"v":48},{"t":51,"v":50},{"t":52,"v":42},{"t":53,"v":58},{"t":54,"v":40},{"t":55,"v":-28},{"t":56,"v":30},{"t":57,"v":55},{"t":58,"v":65},{"t":59,"v":50},{"t":60,"v":10},{"t":61,"v":45},{"t":62,"v":80},{"t":63,"v":60},{"t":64,"v":75},{"t":65,"v":55},{"t":66,"v":70},{"t":67,"v":60},{"t":68,"v":48},{"t":69,"v":55},{"t":70,"v":80},{"t":71,"v":65},{"t":72,"v":45},{"t":73,"v":60},{"t":74,"v":50},{"t":75,"v":40},{"t":76,"v":35},{"t":77,"v":55},{"t":78,"v":48},{"t":79,"v":50},{"t":80,"v":60},{"t":81,"v":40},{"t":82,"v":45},{"t":83,"v":38},{"t":84,"v":50},{"t":85,"v":55},{"t":86,"v":42},{"t":87,"v":48},{"t":88,"v":40},{"t":89,"v":35},{"t":90,"v":52},{"t":91,"v":45},{"t":92,"v":48},{"t":93,"v":38},{"t":94,"v":42},{"t":95,"v":55},{"t":96,"v":45},{"t":97,"v":50},{"t":98,"v":40},{"t":99,"v":52},{"t":100,"v":45},{"t":101,"v":38},{"t":102,"v":50},{"t":103,"v":42},{"t":104,"v":55},{"t":105,"v":48},{"t":106,"v":40},{"t":107,"v":45},{"t":108,"v":52},{"t":109,"v":38},{"t":110,"v":45},{"t":111,"v":50},{"t":112,"v":30},{"t":113,"v":20},{"t":114,"v":-5},{"t":115,"v":15},{"t":116,"v":25},{"t":117,"v":0},{"t":118,"v":30},{"t":119,"v":40},{"t":120,"v":45},{"t":121,"v":52},{"t":122,"v":40},{"t":123,"v":48},{"t":124,"v":55},{"t":125,"v":45},{"t":126,"v":50},{"t":127,"v":42},{"t":128,"v":55},{"t":129,"v":48},{"t":130,"v":60},{"t":131,"v":45},{"t":132,"v":50},{"t":133,"v":55},{"t":134,"v":42},{"t":135,"v":48},{"t":136,"v":62},{"t":137,"v":50},{"t":138,"v":45},{"t":139,"v":55},{"t":140,"v":40},{"t":141,"v":48},{"t":142,"v":52},{"t":143,"v":45},{"t":144,"v":60},{"t":145,"v":50},{"t":146,"v":42},{"t":147,"v":55},{"t":148,"v":50},{"t":149,"v":45},{"t":150,"v":52},{"t":151,"v":48},{"t":152,"v":40},{"t":153,"v":55},{"t":154,"v":50},{"t":155,"v":45},{"t":156,"v":60},{"t":157,"v":40},{"t":158,"v":-85},{"t":159,"v":30},{"t":160,"v":55},{"t":161,"v":45},{"t":162,"v":50},{"t":163,"v":42},{"t":164,"v":48},{"t":165,"v":55},{"t":166,"v":40},{"t":167,"v":45},{"t":168,"v":52},{"t":169,"v":38},{"t":170,"v":45},{"t":171,"v":50},{"t":172,"v":42},{"t":173,"v":48},{"t":174,"v":35},{"t":175,"v":45},{"t":176,"v":40},{"t":177,"v":52},{"t":178,"v":38},{"t":179,"v":45},{"t":180,"v":30},{"t":181,"v":42},{"t":182,"v":48},{"t":183,"v":35},{"t":184,"v":45},{"t":185,"v":30},{"t":186,"v":40},{"t":187,"v":35},{"t":188,"v":45},{"t":189,"v":30},{"t":190,"v":40},{"t":191,"v":35},{"t":192,"v":45},{"t":193,"v":38},{"t":194,"v":30},{"t":195,"v":42},{"t":196,"v":45},{"t":197,"v":35},{"t":198,"v":28},{"t":199,"v":40},{"t":200,"v":45}],
    "d3L_ADY": [{"t":0,"v":-180},{"t":1,"v":-175},{"t":2,"v":-185},{"t":3,"v":-195},{"t":4,"v":-178},{"t":5,"v":-185},{"t":6,"v":-170},{"t":7,"v":-190},{"t":8,"v":-180},{"t":9,"v":-195},{"t":10,"v":-185},{"t":11,"v":-175},{"t":12,"v":-190},{"t":13,"v":-180},{"t":14,"v":-170},{"t":15,"v":-185},{"t":16,"v":-160},{"t":17,"v":-175},{"t":18,"v":-165},{"t":19,"v":-180},{"t":20,"v":-150},{"t":21,"v":-128},{"t":22,"v":-165},{"t":23,"v":-175},{"t":24,"v":-185},{"t":25,"v":-160},{"t":26,"v":-170},{"t":27,"v":-180},{"t":28,"v":-175},{"t":29,"v":-165},{"t":30,"v":-180},{"t":31,"v":-170},{"t":32,"v":-175},{"t":33,"v":-145},{"t":34,"v":-165},{"t":35,"v":-160},{"t":36,"v":-175},{"t":37,"v":-185},{"t":38,"v":-145},{"t":39,"v":-170},{"t":40,"v":-180},{"t":41,"v":-190},{"t":42,"v":-200},{"t":43,"v":-185},{"t":44,"v":-205},{"t":45,"v":-175},{"t":46,"v":-160},{"t":47,"v":-150},{"t":48,"v":-170},{"t":49,"v":-155},{"t":50,"v":-165},{"t":51,"v":-150},{"t":52,"v":-175},{"t":53,"v":-160},{"t":54,"v":-145},{"t":55,"v":-210},{"t":56,"v":-170},{"t":57,"v":-180},{"t":58,"v":-140},{"t":59,"v":-165},{"t":60,"v":-150},{"t":61,"v":-175},{"t":62,"v":-210},{"t":63,"v":-175},{"t":64,"v":-160},{"t":65,"v":-170},{"t":66,"v":-180},{"t":67,"v":-165},{"t":68,"v":-175},{"t":69,"v":-160},{"t":70,"v":-190},{"t":71,"v":-205},{"t":72,"v":-170},{"t":73,"v":-160},{"t":74,"v":-150},{"t":75,"v":-130},{"t":76,"v":-175},{"t":77,"v":-165},{"t":78,"v":-180},{"t":79,"v":-155},{"t":80,"v":-170},{"t":81,"v":-185},{"t":82,"v":-175},{"t":83,"v":-165},{"t":84,"v":-160},{"t":85,"v":-155},{"t":86,"v":-170},{"t":87,"v":-160},{"t":88,"v":-150},{"t":89,"v":-165},{"t":90,"v":-155},{"t":91,"v":-175},{"t":92,"v":-160},{"t":93,"v":-170},{"t":94,"v":-150},{"t":95,"v":-165},{"t":96,"v":-170},{"t":96.6,"v":-140},{"t":97.2,"v":70},{"t":97.8,"v":-120},{"t":98.5,"v":-165},{"t":99,"v":-180},{"t":100,"v":-170},{"t":101,"v":-175},{"t":102,"v":-185},{"t":103,"v":-170},{"t":104,"v":-200},{"t":105,"v":-180},{"t":106,"v":-175},{"t":107,"v":-165},{"t":108,"v":-185},{"t":109,"v":-175},{"t":110,"v":-180},{"t":111,"v":-170},{"t":112,"v":-185},{"t":113,"v":-175},{"t":114,"v":-180},{"t":115,"v":-200},{"t":116,"v":-170},{"t":117,"v":-185},{"t":118,"v":-175},{"t":119,"v":-190},{"t":120,"v":-165},{"t":121,"v":-175},{"t":122,"v":-180},{"t":123,"v":-170},{"t":124,"v":-195},{"t":125,"v":-175},{"t":126,"v":-180},{"t":127,"v":-170},{"t":128,"v":-185},{"t":129,"v":-175},{"t":129.5,"v":-225},{"t":130,"v":60},{"t":130.5,"v":-180},{"t":131,"v":-175},{"t":132,"v":-180},{"t":133,"v":-185},{"t":134,"v":-170},{"t":135,"v":-175},{"t":136,"v":-165},{"t":137,"v":-180},{"t":138,"v":-170},{"t":139,"v":-185},{"t":140,"v":-175},{"t":141,"v":-165},{"t":142,"v":-180},{"t":143,"v":-170},{"t":144,"v":-175},{"t":145,"v":-185},{"t":146,"v":-180},{"t":147,"v":-170},{"t":148,"v":-165},{"t":149,"v":-150},{"t":150,"v":-175},{"t":151,"v":-160},{"t":152,"v":-170},{"t":153,"v":-155},{"t":154,"v":-175},{"t":155,"v":-180},{"t":156,"v":-160},{"t":157,"v":-170},{"t":158,"v":-175},{"t":159,"v":-165},{"t":160,"v":-180},{"t":161,"v":-170},{"t":162,"v":-175},{"t":163,"v":-160},{"t":164,"v":-180},{"t":165,"v":-170},{"t":166,"v":-175},{"t":167,"v":-185},{"t":168,"v":-170},{"t":169,"v":-180},{"t":170,"v":-165},{"t":171,"v":-175},{"t":172,"v":-180},{"t":173,"v":-170},{"t":174,"v":-185},{"t":175,"v":-175},{"t":176,"v":-180},{"t":177,"v":-170},{"t":178,"v":-185},{"t":179,"v":-180},{"t":180,"v":-175},{"t":181,"v":-190},{"t":182,"v":-180},{"t":183,"v":-175},{"t":184,"v":-195},{"t":185,"v":-200},{"t":186,"v":-180},{"t":187,"v":-175},{"t":188,"v":-170},{"t":189,"v":-165},{"t":190,"v":-170},{"t":191,"v":-175},{"t":192,"v":-165},{"t":193,"v":-160},{"t":194,"v":-170},{"t":195,"v":-150},{"t":196,"v":-145},{"t":197,"v":-155},{"t":198,"v":-150},{"t":199,"v":-160},{"t":200,"v":-155}],
    "d3R_GDG": [{"t":0,"v":65},{"t":1,"v":75},{"t":2,"v":55},{"t":3,"v":80},{"t":4,"v":60},{"t":5,"v":70},{"t":6,"v":50},{"t":7,"v":78},{"t":8,"v":62},{"t":9,"v":72},{"t":10,"v":55},{"t":11,"v":68},{"t":12,"v":45},{"t":13,"v":75},{"t":14,"v":60},{"t":15,"v":70},{"t":16,"v":52},{"t":17,"v":65},{"t":18,"v":80},{"t":19,"v":58},{"t":20,"v":70},{"t":21,"v":62},{"t":22,"v":75},{"t":23,"v":55},{"t":24,"v":68},{"t":25,"v":60},{"t":26,"v":72},{"t":27,"v":50},{"t":28,"v":65},{"t":29,"v":78},{"t":30,"v":62},{"t":31,"v":70},{"t":32,"v":55},{"t":33,"v":60},{"t":34,"v":72},{"t":35,"v":58},{"t":36,"v":75},{"t":37,"v":65},{"t":38,"v":60},{"t":39,"v":82},{"t":40,"v":70},{"t":41,"v":55},{"t":42,"v":88},{"t":43,"v":62},{"t":44,"v":70},{"t":45,"v":50},{"t":46,"v":65},{"t":47,"v":58},{"t":48,"v":60},{"t":49,"v":55},{"t":50,"v":45},{"t":50.6,"v":-80},{"t":51.2,"v":-130},{"t":52,"v":-115},{"t":53,"v":-125},{"t":54,"v":-140},{"t":55,"v":-130},{"t":56,"v":-135},{"t":57,"v":-148},{"t":58,"v":-130},{"t":59,"v":-152},{"t":60,"v":-140},{"t":61,"v":-125},{"t":61.6,"v":-190},{"t":62.5,"v":-185},{"t":63,"v":-200},{"t":64,"v":-190},{"t":65,"v":-195},{"t":66,"v":-185},{"t":67,"v":-205},{"t":67.6,"v":-214},{"t":68.2,"v":-150},{"t":68.8,"v":60},{"t":69.5,"v":70},{"t":70.5,"v":55},{"t":71.5,"v":62},{"t":72.5,"v":58},{"t":73.5,"v":52},{"t":74.5,"v":60},{"t":75.5,"v":55},{"t":76.5,"v":62},{"t":77.5,"v":58},{"t":78.5,"v":60},{"t":79.3,"v":55},{"t":80,"v":-180},{"t":81,"v":-190},{"t":82,"v":-175},{"t":83,"v":-208},{"t":84,"v":-185},{"t":85,"v":-178},{"t":86,"v":-195},{"t":87,"v":-170},{"t":88,"v":-185},{"t":89,"v":-200},{"t":90,"v":-180},{"t":91,"v":-190},{"t":92,"v":-175},{"t":93,"v":-195},{"t":94,"v":-185},{"t":95,"v":-180},{"t":96,"v":-195},{"t":97,"v":-185},{"t":98,"v":-190},{"t":99,"v":-200},{"t":100,"v":-185},{"t":101,"v":-175},{"t":102,"v":-185},{"t":103,"v":-190},{"t":104,"v":-180},{"t":105,"v":-195},{"t":106,"v":-185},{"t":107,"v":-190},{"t":108,"v":-180},{"t":109,"v":-195},{"t":110,"v":-185},{"t":111,"v":-200},{"t":112,"v":-190},{"t":113,"v":-195},{"t":114,"v":-205},{"t":115,"v":-210},{"t":115.8,"v":-180},{"t":116.4,"v":85},{"t":117,"v":65},{"t":118,"v":60},{"t":119,"v":55},{"t":119.6,"v":-80},{"t":120.5,"v":-98},{"t":121.5,"v":-95},{"t":122.5,"v":-105},{"t":123.5,"v":-100},{"t":124.5,"v":-110},{"t":125.5,"v":-105},{"t":126.5,"v":-115},{"t":127.5,"v":-110},{"t":128.5,"v":-100},{"t":129.5,"v":-60},{"t":130.2,"v":40},{"t":131,"v":55},{"t":132,"v":60},{"t":133,"v":70},{"t":134,"v":55},{"t":135,"v":62},{"t":136,"v":75},{"t":137,"v":60},{"t":138,"v":58},{"t":139,"v":70},{"t":140,"v":55},{"t":141,"v":65},{"t":142,"v":78},{"t":143,"v":55},{"t":144,"v":62},{"t":145,"v":70},{"t":146,"v":58},{"t":147,"v":65},{"t":148,"v":55},{"t":149,"v":72},{"t":150,"v":60},{"t":151,"v":68},{"t":152,"v":75},{"t":153,"v":55},{"t":154,"v":62},{"t":155,"v":70},{"t":156,"v":58},{"t":157,"v":65},{"t":158,"v":60},{"t":159,"v":72},{"t":160,"v":55},{"t":161,"v":65},{"t":162,"v":78},{"t":163,"v":60},{"t":164,"v":55},{"t":165,"v":70},{"t":166,"v":62},{"t":167,"v":75},{"t":168,"v":88},{"t":169,"v":65},{"t":170,"v":72},{"t":171,"v":60},{"t":172,"v":58},{"t":173,"v":68},{"t":174,"v":55},{"t":174.8,"v":60},{"t":175.4,"v":-180},{"t":176,"v":-242},{"t":176.6,"v":-200},{"t":177.2,"v":85},{"t":178,"v":60},{"t":179,"v":55},{"t":179.8,"v":50},{"t":180.4,"v":-185},{"t":181,"v":-170},{"t":182,"v":-160},{"t":183,"v":-165},{"t":184,"v":-175},{"t":185,"v":-170},{"t":186,"v":-185},{"t":187,"v":-178},{"t":188,"v":-190},{"t":189,"v":-175},{"t":190,"v":-185},{"t":191,"v":-190},{"t":192,"v":-180},{"t":193,"v":-195},{"t":194,"v":-185},{"t":195,"v":-190},{"t":196,"v":-180},{"t":197,"v":-188},{"t":198,"v":-192},{"t":199,"v":-185},{"t":200,"v":-190}],
    "d3R_GDY": [{"t":0,"v":55},{"t":1,"v":35},{"t":2,"v":45},{"t":3,"v":60},{"t":4,"v":40},{"t":5,"v":55},{"t":6,"v":30},{"t":7,"v":50},{"t":8,"v":45},{"t":9,"v":65},{"t":10,"v":40},{"t":11,"v":55},{"t":12,"v":35},{"t":13,"v":50},{"t":14,"v":42},{"t":15,"v":60},{"t":16,"v":48},{"t":17,"v":32},{"t":18,"v":55},{"t":19,"v":45},{"t":20,"v":50},{"t":21,"v":65},{"t":22,"v":40},{"t":23,"v":55},{"t":24,"v":45},{"t":25,"v":60},{"t":26,"v":48},{"t":27,"v":42},{"t":28,"v":58},{"t":29,"v":50},{"t":30,"v":62},{"t":31,"v":45},{"t":32,"v":55},{"t":33,"v":48},{"t":34,"v":60},{"t":35,"v":42},{"t":36,"v":55},{"t":37,"v":65},{"t":38,"v":48},{"t":39,"v":52},{"t":40,"v":58},{"t":41,"v":45},{"t":42,"v":62},{"t":43,"v":50},{"t":44,"v":40},{"t":45,"v":55},{"t":46,"v":48},{"t":47,"v":42},{"t":48,"v":50},{"t":49,"v":45},{"t":50,"v":48},{"t":51,"v":52},{"t":52,"v":45},{"t":53,"v":50},{"t":54,"v":55},{"t":55,"v":45},{"t":56,"v":48},{"t":57,"v":52},{"t":58,"v":42},{"t":59,"v":50},{"t":60,"v":48},{"t":61,"v":55},{"t":62,"v":45},{"t":63,"v":50},{"t":64,"v":52},{"t":65,"v":48},{"t":66,"v":55},{"t":67,"v":50},{"t":68,"v":45},{"t":69,"v":52},{"t":70,"v":55},{"t":71,"v":48},{"t":72,"v":50},{"t":73,"v":60},{"t":74,"v":45},{"t":75,"v":52},{"t":76,"v":48},{"t":77,"v":55},{"t":78,"v":50},{"t":79,"v":45},{"t":80,"v":52},{"t":81,"v":48},{"t":82,"v":55},{"t":83,"v":45},{"t":84,"v":50},{"t":85,"v":58},{"t":86,"v":48},{"t":87,"v":52},{"t":88,"v":45},{"t":89,"v":55},{"t":90,"v":48},{"t":91,"v":40},{"t":92,"v":55},{"t":93,"v":50},{"t":94,"v":48},{"t":95,"v":52},{"t":96,"v":45},{"t":97,"v":55},{"t":98,"v":50},{"t":99,"v":48},{"t":100,"v":45},{"t":101,"v":52},{"t":102,"v":48},{"t":103,"v":55},{"t":104,"v":45},{"t":105,"v":50},{"t":106,"v":30},{"t":106.6,"v":-65},{"t":107.2,"v":20},{"t":108,"v":48},{"t":109,"v":52},{"t":110,"v":45},{"t":111,"v":50},{"t":112,"v":48},{"t":113,"v":55},{"t":114,"v":50},{"t":115,"v":45},{"t":116,"v":60},{"t":116.6,"v":85},{"t":117.4,"v":60},{"t":118,"v":45},{"t":119,"v":55},{"t":120,"v":50},{"t":121,"v":40},{"t":121.8,"v":-110},{"t":122.5,"v":-60},{"t":123.2,"v":40},{"t":124,"v":55},{"t":125,"v":45},{"t":126,"v":60},{"t":127,"v":52},{"t":128,"v":48},{"t":129,"v":55},{"t":130,"v":62},{"t":131,"v":50},{"t":132,"v":45},{"t":133,"v":58},{"t":134,"v":52},{"t":135,"v":48},{"t":136,"v":60},{"t":137,"v":45},{"t":138,"v":55},{"t":139,"v":50},{"t":140,"v":62},{"t":141,"v":48},{"t":142,"v":55},{"t":143,"v":45},{"t":144,"v":58},{"t":145,"v":50},{"t":145.6,"v":-90},{"t":146.4,"v":40},{"t":147,"v":55},{"t":148,"v":48},{"t":149,"v":60},{"t":150,"v":52},{"t":151,"v":45},{"t":152,"v":55},{"t":153,"v":62},{"t":154,"v":48},{"t":155,"v":55},{"t":156,"v":45},{"t":157,"v":60},{"t":158,"v":52},{"t":159,"v":48},{"t":160,"v":55},{"t":161,"v":62},{"t":162,"v":50},{"t":163,"v":45},{"t":164,"v":55},{"t":165,"v":30},{"t":165.8,"v":5},{"t":166.6,"v":45},{"t":167,"v":58},{"t":168,"v":70},{"t":169,"v":55},{"t":170,"v":48},{"t":171,"v":60},{"t":172,"v":52},{"t":173,"v":45},{"t":174,"v":55},{"t":175,"v":62},{"t":176,"v":48},{"t":177,"v":40},{"t":178,"v":55},{"t":179,"v":50},{"t":180,"v":45},{"t":181,"v":58},{"t":182,"v":48},{"t":183,"v":52},{"t":184,"v":60},{"t":185,"v":42},{"t":186,"v":55},{"t":187,"v":48},{"t":188,"v":50},{"t":189,"v":62},{"t":190,"v":45},{"t":191,"v":55},{"t":192,"v":50},{"t":193,"v":42},{"t":194,"v":58},{"t":195,"v":48},{"t":196,"v":55},{"t":197,"v":40},{"t":198,"v":45},{"t":199,"v":30},{"t":200,"v":35}],
    "d3R_ADY": [{"t":0,"v":-120},{"t":1,"v":-110},{"t":2,"v":-130},{"t":3,"v":-145},{"t":4,"v":-150},{"t":5,"v":-185},{"t":6,"v":-170},{"t":7,"v":-145},{"t":8,"v":-150},{"t":9,"v":-140},{"t":10,"v":-145},{"t":11,"v":-135},{"t":12,"v":-150},{"t":13,"v":-130},{"t":14,"v":-125},{"t":15,"v":-140},{"t":16,"v":-135},{"t":17,"v":-150},{"t":18,"v":-145},{"t":19,"v":-160},{"t":20,"v":-150},{"t":21,"v":-170},{"t":22,"v":-165},{"t":23,"v":-175},{"t":24,"v":-160},{"t":25,"v":-170},{"t":26,"v":-165},{"t":27,"v":-175},{"t":28,"v":-160},{"t":29,"v":-170},{"t":30,"v":-180},{"t":31,"v":-165},{"t":32,"v":-160},{"t":33,"v":-150},{"t":34,"v":-140},{"t":35,"v":-150},{"t":36,"v":-165},{"t":37,"v":-160},{"t":38,"v":-175},{"t":39,"v":-170},{"t":40,"v":-180},{"t":41,"v":-165},{"t":42,"v":-190},{"t":43,"v":-175},{"t":44,"v":-185},{"t":45,"v":-180},{"t":46,"v":-200},{"t":47,"v":-185},{"t":48,"v":-195},{"t":49,"v":-190},{"t":50,"v":-205},{"t":51,"v":-195},{"t":52,"v":-200},{"t":53,"v":-210},{"t":54,"v":-215},{"t":55,"v":-225},{"t":56,"v":-200},{"t":57,"v":-210},{"t":58,"v":-195},{"t":59,"v":-205},{"t":60,"v":-190},{"t":61,"v":-200},{"t":62,"v":-185},{"t":63,"v":-180},{"t":64,"v":-175},{"t":65,"v":-185},{"t":66,"v":-170},{"t":67,"v":-175},{"t":68,"v":-165},{"t":69,"v":-180},{"t":70,"v":-160},{"t":71,"v":-165},{"t":72,"v":-155},{"t":73,"v":-145},{"t":74,"v":-135},{"t":75,"v":-150},{"t":76,"v":-160},{"t":77,"v":-170},{"t":78,"v":-175},{"t":79,"v":-165},{"t":80,"v":-170},{"t":81,"v":-160},{"t":82,"v":-175},{"t":83,"v":-165},{"t":84,"v":-155},{"t":85,"v":-150},{"t":86,"v":-160},{"t":87,"v":-165},{"t":88,"v":-155},{"t":89,"v":-145},{"t":90,"v":-150},{"t":91,"v":-160},{"t":92,"v":-155},{"t":93,"v":-145},{"t":94,"v":-135},{"t":95,"v":-150},{"t":96,"v":-165},{"t":97,"v":-175},{"t":98,"v":-180},{"t":99,"v":-175},{"t":100,"v":-185},{"t":101,"v":-180},{"t":102,"v":-175},{"t":103,"v":-190},{"t":104,"v":-185},{"t":105,"v":-175},{"t":106,"v":-180},{"t":107,"v":-170},{"t":108,"v":-185},{"t":109,"v":-190},{"t":110,"v":-180},{"t":111,"v":-175},{"t":112,"v":-190},{"t":113,"v":-185},{"t":114,"v":-180},{"t":115,"v":-195},{"t":116,"v":-190},{"t":117,"v":-180},{"t":118,"v":-200},{"t":119,"v":-195},{"t":120,"v":-205},{"t":121,"v":-190},{"t":122,"v":-200},{"t":123,"v":-185},{"t":123.6,"v":-120},{"t":124.3,"v":-195},{"t":125,"v":-190},{"t":126,"v":-205},{"t":127,"v":-195},{"t":128,"v":-200},{"t":129,"v":-190},{"t":130,"v":-205},{"t":131,"v":-195},{"t":132,"v":-185},{"t":133,"v":-180},{"t":134,"v":-175},{"t":135,"v":-185},{"t":136,"v":-170},{"t":137,"v":-180},{"t":138,"v":-175},{"t":139,"v":-185},{"t":140,"v":-180},{"t":141,"v":-170},{"t":142,"v":-160},{"t":143,"v":-145},{"t":144,"v":-130},{"t":145,"v":-125},{"t":146,"v":-135},{"t":147,"v":-140},{"t":148,"v":-130},{"t":149,"v":-120},{"t":150,"v":-135},{"t":151,"v":-115},{"t":152,"v":-130},{"t":153,"v":-140},{"t":154,"v":-135},{"t":155,"v":-145},{"t":156,"v":-150},{"t":157,"v":-140},{"t":158,"v":-155},{"t":159,"v":-150},{"t":160,"v":-160},{"t":161,"v":-165},{"t":162,"v":-155},{"t":163,"v":-170},{"t":164,"v":-175},{"t":165,"v":-185},{"t":166,"v":-195},{"t":167,"v":-190},{"t":168,"v":-185},{"t":169,"v":-150},{"t":169.6,"v":-110},{"t":170.3,"v":-180},{"t":171,"v":-185},{"t":172,"v":-190},{"t":173,"v":-195},{"t":174,"v":-200},{"t":175,"v":-190},{"t":176,"v":-180},{"t":177,"v":-165},{"t":178,"v":-150},{"t":179,"v":-155},{"t":180,"v":-145},{"t":181,"v":-150},{"t":182,"v":-140},{"t":183,"v":-135},{"t":184,"v":-145},{"t":185,"v":-130},{"t":186,"v":-125},{"t":187,"v":-140},{"t":188,"v":-145},{"t":189,"v":-150},{"t":190,"v":-140},{"t":191,"v":-145},{"t":192,"v":-150},{"t":193,"v":-140},{"t":194,"v":-135},{"t":195,"v":-145},{"t":196,"v":-150},{"t":197,"v":-140},{"t":198,"v":-145},{"t":199,"v":-135},{"t":200,"v":-140}]
  },
  "spacing": 14,
  "resolve": {"scale": {"x": "independent", "y": "independent"}},
  "vconcat": [
    {
      "title": {"text": "Asn66-Trp110 polar separation", "anchor": "middle", "frame": "bounds", "offset": 6, "dx": 18},
      "spacing": 5,
      "resolve": {"scale": {"x": "independent", "y": "independent"}},
      "hconcat": [
        {
          "width": 476, "height": 197,
          "encoding": {
            "x": {"field": "t", "type": "quantitative", "scale": {"domain": [0, 200], "nice": false}, "axis": {"values": [0, 50, 100, 150, 200], "labels": false, "title": null}},
            "y": {"field": "v", "type": "quantitative", "scale": {"domain": [1.5, 4.5], "nice": false, "zero": false}, "axis": {"values": [1.5, 2.5, 3.5, 4.5], "format": ".1f", "title": "distance ( Å )", "titlePadding": 26}}
          },
          "layer": [
            {"data": {"name": "d1L_GDG"}, "mark": {"type": "line", "color": "#F45B2E"}, "encoding": {}},
            {"data": {"name": "d1L_GGG"}, "mark": {"type": "line", "color": "#8C1E3A"}, "encoding": {}},
            {"data": {"name": "d1L_apo"}, "mark": {"type": "line", "color": "#2B5A9E"}, "encoding": {}},
            {"data": {"name": "lv1"}, "mark": {"type": "line", "color": "#333333", "strokeDash": [7, 5], "strokeWidth": 3}, "encoding": {"detail": {"field": "k", "type": "nominal"}}},
            {"data": {"values": [{"t": 5, "v": 3.6, "k": "open"}]}, "mark": {"type": "text", "align": "left", "baseline": "middle", "dy": -20, "fontSize": 20, "fontWeight": "bold", "color": "#333333"}, "encoding": {"text": {"field": "k"}}},
            {"data": {"values": [{"t": 5, "v": 1.9, "k": "closed"}]}, "mark": {"type": "text", "align": "left", "baseline": "middle", "dy": -14, "fontSize": 20, "fontWeight": "bold", "color": "#333333"}, "encoding": {"text": {"field": "k"}}},
            {"data": {"values": [{"t": 200, "v": 4.5, "k": "replicate 1"}]}, "mark": {"type": "text", "align": "right", "baseline": "middle", "dx": -7, "dy": 17, "fontSize": 21, "color": "#333333"}, "encoding": {"text": {"field": "k"}}}
          ]
        },
        {
          "width": 476, "height": 197,
          "encoding": {
            "x": {"field": "t", "type": "quantitative", "scale": {"domain": [0, 200], "nice": false}, "axis": {"values": [0, 50, 100, 150, 200], "labels": false, "title": null}},
            "y": {"field": "v", "type": "quantitative", "scale": {"domain": [1.5, 4.5], "nice": false, "zero": false}, "axis": {"values": [1.5, 2.5, 3.5, 4.5], "labels": false, "title": null}}
          },
          "layer": [
            {"data": {"name": "d1R_GDG"}, "mark": {"type": "line", "color": "#F45B2E"}, "encoding": {}},
            {"data": {"name": "d1R_GGG"}, "mark": {"type": "line", "color": "#8C1E3A"}, "encoding": {}},
            {"data": {"name": "d1R_apo"}, "mark": {"type": "line", "color": "#2B5A9E"}, "encoding": {}},
            {"data": {"name": "lv1"}, "mark": {"type": "line", "color": "#333333", "strokeDash": [7, 5], "strokeWidth": 3}, "encoding": {"detail": {"field": "k", "type": "nominal"}}},
            {"data": {"values": [{"t": 200, "v": 4.5, "k": "replicate 2"}]}, "mark": {"type": "text", "align": "right", "baseline": "middle", "dx": -7, "dy": 17, "fontSize": 21, "color": "#333333"}, "encoding": {"text": {"field": "k"}}},
            {"data": {"values": [{"t": 200, "v": 3.6, "k": "GDG"}]}, "mark": {"type": "text", "align": "left", "baseline": "middle", "dx": 11, "fontSize": 21, "fontWeight": "bold", "color": "#EE5A30"}, "encoding": {"text": {"field": "k"}}},
            {"data": {"values": [{"t": 200, "v": 2.88, "k": "GGG"}]}, "mark": {"type": "text", "align": "left", "baseline": "middle", "dx": 11, "fontSize": 21, "fontWeight": "bold", "color": "#7E2233"}, "encoding": {"text": {"field": "k"}}},
            {"data": {"values": [{"t": 200, "v": 2.14, "k": "apo"}]}, "mark": {"type": "text", "align": "left", "baseline": "middle", "dx": 11, "fontSize": 21, "fontWeight": "bold", "color": "#2C4A86"}, "encoding": {"text": {"field": "k"}}}
          ]
        }
      ]
    },
    {
      "title": {"text": "PD-1 interface cavity volume", "anchor": "middle", "frame": "bounds", "offset": 2, "dx": 18},
      "spacing": 5,
      "resolve": {"scale": {"x": "independent", "y": "independent"}},
      "hconcat": [
        {
          "width": 476, "height": 200,
          "encoding": {
            "x": {"field": "t", "type": "quantitative", "scale": {"domain": [0, 200], "nice": false}, "axis": {"values": [0, 50, 100, 150, 200], "labels": false, "title": null}},
            "y": {"field": "v", "type": "quantitative", "scale": {"domain": [100, 500], "nice": false, "zero": false}, "axis": {"values": [100, 200, 300, 400, 500], "title": "volume ( Å³ )", "titlePadding": 21}}
          },
          "layer": [
            {"data": {"name": "d2L_apo"}, "mark": {"type": "line", "color": "#3A74C6"}, "encoding": {}},
            {"data": {"name": "d2L_GDG"}, "mark": {"type": "line", "color": "#EE4A28"}, "encoding": {}},
            {"data": {"name": "d2L_GDY"}, "mark": {"type": "line", "color": "#F6A03A"}, "encoding": {}},
            {"data": {"name": "lv2"}, "mark": {"type": "line", "color": "#333333", "strokeDash": [7, 5], "strokeWidth": 3}, "encoding": {"detail": {"field": "k", "type": "nominal"}}},
            {"data": {"values": [{"t": 5, "v": 420, "k": "open"}]}, "mark": {"type": "text", "align": "left", "baseline": "middle", "dy": -17, "fontSize": 20, "fontWeight": "bold", "color": "#333333"}, "encoding": {"text": {"field": "k"}}},
            {"data": {"values": [{"t": 5, "v": 188, "k": "closed"}]}, "mark": {"type": "text", "align": "left", "baseline": "middle", "dy": -12, "fontSize": 20, "fontWeight": "bold", "color": "#333333"}, "encoding": {"text": {"field": "k"}}}
          ]
        },
        {
          "width": 476, "height": 200,
          "encoding": {
            "x": {"field": "t", "type": "quantitative", "scale": {"domain": [0, 200], "nice": false}, "axis": {"values": [0, 50, 100, 150, 200], "labels": false, "title": null}},
            "y": {"field": "v", "type": "quantitative", "scale": {"domain": [100, 500], "nice": false, "zero": false}, "axis": {"values": [100, 200, 300, 400, 500], "labels": false, "title": null}}
          },
          "layer": [
            {"data": {"name": "d2R_apo"}, "mark": {"type": "line", "color": "#3A74C6"}, "encoding": {}},
            {"data": {"name": "d2R_GDG"}, "mark": {"type": "line", "color": "#EE4A28"}, "encoding": {}},
            {"data": {"name": "d2R_GDY"}, "mark": {"type": "line", "color": "#F6A03A"}, "encoding": {}},
            {"data": {"name": "lv2"}, "mark": {"type": "line", "color": "#333333", "strokeDash": [7, 5], "strokeWidth": 3}, "encoding": {"detail": {"field": "k", "type": "nominal"}}},
            {"data": {"values": [{"t": 200, "v": 386, "k": "GDY"}]}, "mark": {"type": "text", "align": "left", "baseline": "middle", "dx": 11, "fontSize": 21, "fontWeight": "bold", "color": "#F39C3A"}, "encoding": {"text": {"field": "k"}}},
            {"data": {"values": [{"t": 200, "v": 282, "k": "GDG"}]}, "mark": {"type": "text", "align": "left", "baseline": "middle", "dx": 11, "fontSize": 21, "fontWeight": "bold", "color": "#EA4B2E"}, "encoding": {"text": {"field": "k"}}},
            {"data": {"values": [{"t": 200, "v": 196, "k": "apo"}]}, "mark": {"type": "text", "align": "left", "baseline": "middle", "dx": 11, "fontSize": 21, "fontWeight": "bold", "color": "#2C4A86"}, "encoding": {"text": {"field": "k"}}}
          ]
        }
      ]
    },
    {
      "title": {"text": "Ile126 X₁ rotamer angle", "anchor": "middle", "frame": "bounds", "offset": -15, "dx": 18},
      "resolve": {"scale": {"x": "independent", "y": "independent"}},
      "vconcat": [
        {
          "title": {"text": "time ( ns )", "anchor": "middle", "frame": "bounds", "orient": "bottom", "fontWeight": 300, "fontSize": 27, "offset": 15, "dx": 16},
          "spacing": 5,
          "resolve": {"scale": {"x": "independent", "y": "independent"}},
          "hconcat": [
            {
              "width": 476, "height": 211,
              "encoding": {
                "x": {"field": "t", "type": "quantitative", "scale": {"domain": [0, 200], "nice": false}, "axis": {"values": [0, 50, 100, 150, 200], "title": null, "labelFont": "Open Sans", "labelFontWeight": 300, "labelFontSize": 21, "labelColor": "#333333", "labelPadding": 7, "labelExpr": "datum.value == 200 ? '' : datum.label"}},
                "y": {"field": "v", "type": "quantitative", "scale": {"domain": [-250, 100], "nice": false, "zero": false}, "axis": {"values": [-250, -150, -50, 50], "title": "angle ( ⁰ )", "titlePadding": 9, "labelExpr": "datum.value < 0 ? '-' + abs(datum.value) : datum.label"}}
              },
              "layer": [
                {"data": {"name": "d3L_ADY"}, "mark": {"type": "line", "color": "#FACB2A"}, "encoding": {}},
                {"data": {"name": "d3L_GDG"}, "mark": {"type": "line", "color": "#EE4622"}, "encoding": {}},
                {"data": {"name": "d3L_GDY"}, "mark": {"type": "line", "color": "#F7A033"}, "encoding": {}},
                {"data": {"name": "lv3"}, "mark": {"type": "line", "color": "#333333", "strokeDash": [7, 5], "strokeWidth": 3}, "encoding": {"detail": {"field": "k", "type": "nominal"}}},
                {"data": {"values": [{"t": 5, "v": 82, "k": "open"}]}, "mark": {"type": "text", "align": "left", "baseline": "middle", "dy": -19, "fontSize": 20, "fontWeight": "bold", "color": "#333333"}, "encoding": {"text": {"field": "k"}}},
                {"data": {"values": [{"t": 5, "v": -183, "k": "closed"}]}, "mark": {"type": "text", "align": "left", "baseline": "middle", "dy": -13, "fontSize": 20, "fontWeight": "bold", "color": "#333333"}, "encoding": {"text": {"field": "k"}}}
              ]
            },
            {
              "width": 476, "height": 211,
              "encoding": {
                "x": {"field": "t", "type": "quantitative", "scale": {"domain": [0, 200], "nice": false}, "axis": {"values": [0, 50, 100, 150, 200], "title": null, "labelFont": "Open Sans", "labelFontWeight": 300, "labelFontSize": 21, "labelColor": "#333333", "labelPadding": 7}},
                "y": {"field": "v", "type": "quantitative", "scale": {"domain": [-250, 100], "nice": false, "zero": false}, "axis": {"values": [-250, -150, -50, 50], "labels": false, "title": null}}
              },
              "layer": [
                {"data": {"name": "d3R_ADY"}, "mark": {"type": "line", "color": "#FACB2A"}, "encoding": {}},
                {"data": {"name": "d3R_GDG"}, "mark": {"type": "line", "color": "#EE4622"}, "encoding": {}},
                {"data": {"name": "d3R_GDY"}, "mark": {"type": "line", "color": "#F7A033"}, "encoding": {}},
                {"data": {"name": "lv3"}, "mark": {"type": "line", "color": "#333333", "strokeDash": [7, 5], "strokeWidth": 3}, "encoding": {"detail": {"field": "k", "type": "nominal"}}},
                {"data": {"values": [{"t": 200, "v": 46, "k": "GDY"}]}, "mark": {"type": "text", "align": "left", "baseline": "middle", "dx": 11, "fontSize": 21, "fontWeight": "bold", "color": "#F29A38"}, "encoding": {"text": {"field": "k"}}},
                {"data": {"values": [{"t": 200, "v": -62, "k": "GDG"}]}, "mark": {"type": "text", "align": "left", "baseline": "middle", "dx": 11, "fontSize": 21, "fontWeight": "bold", "color": "#E8492A"}, "encoding": {"text": {"field": "k"}}},
                {"data": {"values": [{"t": 200, "v": -150, "k": "ADY"}]}, "mark": {"type": "text", "align": "left", "baseline": "middle", "dx": 11, "fontSize": 21, "fontWeight": "bold", "color": "#C6B12A"}, "encoding": {"text": {"field": "k"}}}
              ]
            }
          ]
        }
      ]
    }
  ]
}
